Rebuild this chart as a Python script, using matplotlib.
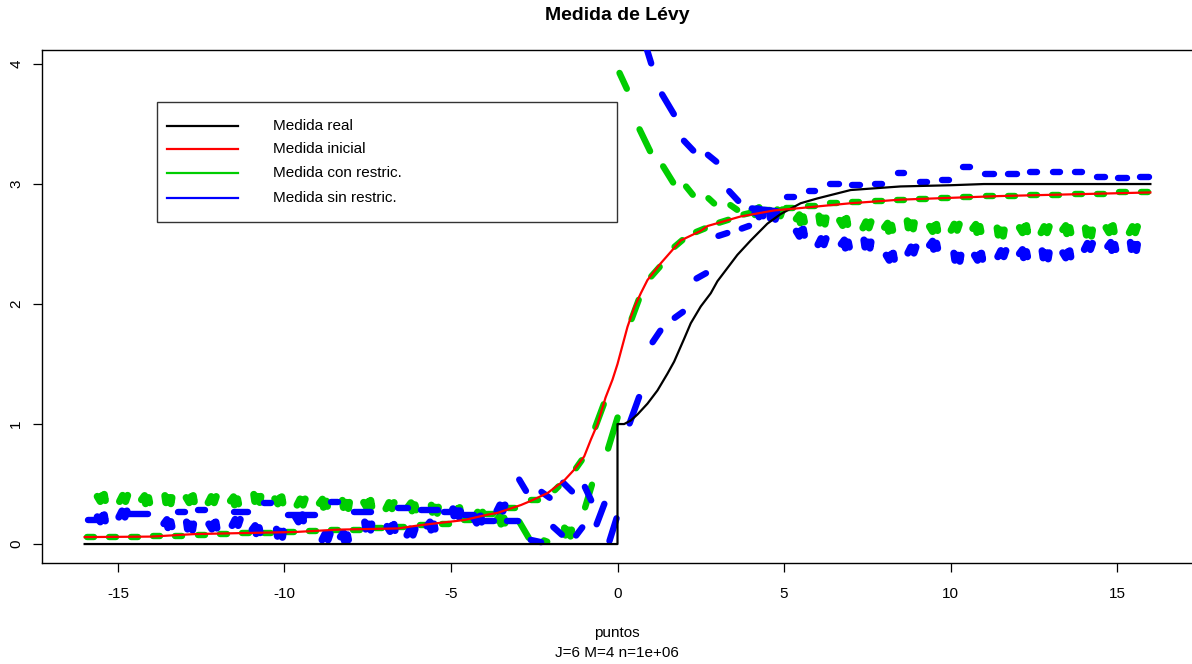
import numpy as np
import matplotlib
matplotlib.use("Agg")
import matplotlib.pyplot as plt
from matplotlib.collections import LineCollection
from matplotlib.patches import Rectangle
from matplotlib.lines import Line2D

plt.rcParams['font.family'] = ['Liberation Sans', 'DejaVu Sans']
plt.rcParams['axes.unicode_minus'] = False

# ---------------- data ----------------
title = "Medida de Lévy"
xlabel = "puntos"
sublabel = "J=6 M=4 n=1e+06"
legend_labels = ["Medida real", "Medida inicial", "Medida con restric.", "Medida sin restric."]
x_ticks = [-15, -10, -5, 0, 5, 10, 15]
y_ticks = [0, 1, 2, 3, 4]

# Medida real (black)
real_x = [-16, 0, 0, 0.2, 0.4, 0.6, 0.9, 1.2, 1.5, 1.7, 2.0, 2.2, 2.5, 2.8, 3.0, 3.3, 3.6, 4.0,
          4.5, 4.9, 5.5, 6.0, 7.0, 8.5, 10.0, 11.0, 16.0]
real_y = [0, 0, 1.0, 1.0, 1.03, 1.08, 1.17, 1.28, 1.42, 1.52, 1.71, 1.84, 1.98, 2.09, 2.19, 2.30,
          2.41, 2.53, 2.67, 2.75, 2.84, 2.88, 2.95, 2.98, 2.99, 3.0, 3.0]

# Medida inicial (red)
ini_x = [-16, -14, -12.7, -11.5, -9.7, -8.4, -6.6, -5.9, -4.6, -3.9, -3.6, -2.9, -2.6, -2.1, -1.6,
         -1.3, -1.0, -0.8, -0.6, -0.36, -0.15, 0.0, 0.3, 0.5, 0.7, 0.9, 1.3, 1.9, 2.5, 2.7, 3.7,
         4.7, 5.5, 7.0, 8.5, 11.5, 16.0]
ini_y = [0.058, 0.062, 0.083, 0.09, 0.10, 0.12, 0.13, 0.158, 0.20, 0.245, 0.26, 0.325, 0.36, 0.425,
         0.53, 0.62, 0.73, 0.87, 1.0, 1.22, 1.37, 1.50, 1.81, 1.97, 2.09, 2.20, 2.34, 2.53, 2.61,
         2.65, 2.73, 2.78, 2.80, 2.84, 2.87, 2.90, 2.93]

# Medida con restric. (green): flat dashes (centre x, y)
con_dash_x = [-15.83, -15.17, -14.50, -13.83, -13.17, -12.50, -11.83, -11.17, -10.50, -9.83, -9.17,
              -8.50, -7.83, -7.17, -6.50, -5.83, -5.17, -4.50, -3.83, -3.17, -2.50,
              4.49, 5.16, 5.83, 6.49, 7.16, 7.83, 8.49, 9.16, 9.83, 10.49, 11.16, 11.83, 12.49,
              13.16, 13.83, 14.49, 15.16, 15.83]
con_dash_y = [0.06, 0.06, 0.06, 0.065, 0.07, 0.075, 0.085, 0.09, 0.095, 0.10, 0.105,
              0.115, 0.12, 0.13, 0.14, 0.155, 0.17, 0.20, 0.25, 0.30, 0.37,
              2.78, 2.80, 2.82, 2.84, 2.85, 2.86, 2.87, 2.875, 2.88, 2.89, 2.90, 2.90, 2.91,
              2.91, 2.92, 2.92, 2.93, 2.93]
# green sloped pieces (x0, y0, x1, y1)
con_seg_x0 = [-1.95, -1.30, -0.70, 0.39, 0.95, 1.64, 2.27, 2.96, 3.69,
              -3.00, -2.30, -1.00, -0.31, 0.02, 0.62, 1.32, 2.00, 2.66, 3.31]
con_seg_y0 = [0.43, 0.61, 0.95, 1.85, 2.21, 2.46, 2.59, 2.67, 2.74,
              0.21, 0.04, 0.28, 0.77, 3.95, 3.48, 3.17, 3.00, 2.90, 2.84]
con_seg_x1 = [-1.70, -1.02, -0.38, 0.67, 1.33, 2.02, 2.71, 3.42, 4.15,
              -2.62, -2.02, -0.74, 0.03, 0.32, 1.02, 1.72, 2.32, 2.97, 3.67]
con_seg_y1 = [0.50, 0.72, 1.19, 2.06, 2.33, 2.55, 2.64, 2.71, 2.77,
              0.03, 0.01, 0.52, 1.08, 3.77, 3.25, 2.99, 2.89, 2.82, 2.77]
# green scattered clumps (x, y)
con_blob_x = [-15.50, -14.83, -14.17, -13.50, -12.83, -12.17, -11.50, -10.83, -10.17, -9.50, -8.83,
              -8.17, -7.50, -6.83, -6.17, -5.50, -4.83, -4.17, -3.50, -1.50,
              4.16, 4.83, 5.49, 6.14, 6.79, 7.49, 8.14, 8.79, 9.49, 10.14, 10.79, 11.49, 12.19,
              12.84, 13.49, 14.14, 14.79, 15.49]
con_blob_y = [0.38, 0.38, 0.37, 0.37, 0.37, 0.37, 0.36, 0.38, 0.36, 0.35, 0.34,
              0.33, 0.33, 0.32, 0.31, 0.29, 0.27, 0.24, 0.20, 0.10,
              2.77, 2.76, 2.71, 2.70, 2.68, 2.66, 2.64, 2.66, 2.63, 2.64, 2.63, 2.60, 2.62,
              2.62, 2.62, 2.60, 2.62, 2.62]

# Medida sin restric. (blue): dashes / sloped pieces (x0, y0, x1, y1)
sin_seg_x0 = [-16.00, -14.80, -13.30, -12.70, -11.60, -10.70, -10.00, -8.70, -8.00, -6.70, -6.00,
              -5.30, -4.70, -4.20, -3.40,
              -3.00, -2.70, -2.36, -2.00, -1.70, -1.30, -1.02, -0.66, -0.27, 0.33, 1.00, 1.64,
              2.29, 2.94, 3.64, 0.84, 1.29, 1.93, 2.64, 3.29, 3.94,
              4.99, 5.64, 6.29, 6.94, 7.64, 8.34, 8.99, 9.64, 10.29, 10.94, 11.64, 12.29, 12.99,
              13.64, 14.29, 14.94, 15.59]
sin_seg_y0 = [0.20, 0.25, 0.27, 0.28, 0.27, 0.34, 0.24, 0.35, 0.27, 0.30, 0.28,
              0.27, 0.24, 0.19, 0.19,
              0.56, 0.04, 0.45, 0.16, 0.53, 0.05, 0.50, 0.14, 0.00, 0.98, 1.66, 1.87,
              2.20, 2.56, 2.62, 4.16, 3.77, 3.38, 3.26, 2.96, 2.80,
              2.89, 2.94, 3.00, 2.99, 3.00, 3.09, 3.02, 3.03, 3.14, 3.08, 3.08, 3.10, 3.10,
              3.10, 3.06, 3.05, 3.06]
sin_seg_x1 = [-15.35, -14.00, -12.90, -12.30, -11.00, -10.30, -9.00, -8.30, -7.30, -6.20, -5.30,
              -4.60, -4.20, -3.60, -2.90,
              -2.70, -2.20, -1.96, -1.60, -1.30, -1.00, -0.75, -0.36, 0.00, 0.68, 1.34, 2.04,
              2.74, 3.39, 4.04, 1.04, 1.74, 2.34, 3.04, 3.69, 4.89,
              5.39, 6.04, 6.74, 7.39, 8.04, 8.69, 9.39, 10.04, 10.69, 11.39, 12.09, 12.69, 13.39,
              14.04, 14.74, 15.39, 16.04]
sin_seg_y1 = [0.20, 0.25, 0.27, 0.28, 0.27, 0.34, 0.24, 0.35, 0.27, 0.30, 0.28,
              0.27, 0.24, 0.19, 0.19,
              0.42, 0.01, 0.37, 0.06, 0.42, 0.16, 0.34, 0.36, 0.24, 1.25, 1.80, 1.95,
              2.27, 2.60, 2.66, 3.98, 3.56, 3.26, 3.17, 2.84, 2.77,
              2.89, 2.94, 3.00, 2.99, 3.00, 3.09, 3.02, 3.03, 3.14, 3.08, 3.08, 3.10, 3.10,
              3.10, 3.06, 3.05, 3.06]
# blue scattered clumps (x, y)
sin_blob_x = [-15.50, -14.85, -13.50, -12.85, -12.15, -11.45, -10.85, -10.15, -9.55, -8.75, -8.20,
              -7.50, -6.80, -6.20, -5.60, -4.85, -4.20, -3.50, 4.25, 4.65,
              5.49, 6.14, 6.84, 7.49, 8.19, 8.84, 9.49, 10.19, 10.84, 11.54, 12.19, 12.84, 13.49,
              14.14, 14.84, 15.49]
sin_blob_y = [0.21, 0.25, 0.17, 0.15, 0.15, 0.18, 0.12, 0.09, 0.21, 0.06, 0.06,
              0.15, 0.13, 0.10, 0.15, 0.26, 0.20, 0.30, 2.76, 2.74,
              2.59, 2.52, 2.50, 2.50, 2.39, 2.45, 2.49, 2.39, 2.39, 2.42, 2.42, 2.41, 2.41,
              2.48, 2.48, 2.48]

# ---------------- figure ----------------
W, H = 1192, 664
fig = plt.figure(figsize=(W / 100, H / 100), dpi=100)
ax = fig.add_axes([42 / W, (H - 563) / H, (1193 - 42) / W, (563 - 50) / H])
ax.set_xlim(-17.28, 17.28)
ax.set_ylim(-0.158, 4.117)

GREEN = "#00CD00"
BLUE = "#0000FF"
RED = "#FF0000"
MARK_LW = 4.6
BLOB_LW = 5.2

# px -> data units
ppx_x = (1193 - 42) / (17.28 * 2)
ppx_y = (563 - 50) / (4.117 + 0.158)
cap = 3.2 / ppx_x
half_dash = 0.20 - cap

blob_patterns = [
    [(-4, 2), (-1, -3), (1, 3), (4, -2), (3, 4)],
    [(-4, -3), (-1, 3), (2, -3), (4, 3)],
    [(-4, 0), (-1, 4), (0, -4), (3, 2), (4, -3)],
    [(-3, 4), (-2, -3), (1, 2), (3, -4), (4, 2)],
]


def draw_dashes(xs, ys, color, z):
    segs = [[(x - half_dash, y), (x + half_dash, y)] for x, y in zip(xs, ys)]
    ax.add_collection(LineCollection(segs, colors=color, linewidths=MARK_LW,
                                     capstyle="round", zorder=z))


def draw_segs(x0, y0, x1, y1, color, z):
    segs = []
    for a, b, c, d in zip(x0, y0, x1, y1):
        L = np.hypot((c - a) * ppx_x, (d - b) * ppx_y)
        f = min(0.45, 3.2 / L) if L > 0 else 0
        segs.append([(a + (c - a) * f, b + (d - b) * f), (c - (c - a) * f, d - (d - b) * f)])
    ax.add_collection(LineCollection(segs, colors=color, linewidths=MARK_LW,
                                     capstyle="round", joinstyle="round", zorder=z))


def draw_blobs(xs, ys, color, z):
    for i, (x, y) in enumerate(zip(xs, ys)):
        pat = blob_patterns[i % len(blob_patterns)]
        px = [x + dx / ppx_x for dx, dy in pat]
        py = [y + dy / ppx_y for dx, dy in pat]
        ax.plot(px, py, color=color, lw=BLOB_LW, solid_capstyle="round",
                solid_joinstyle="round", zorder=z)


# green
draw_dashes(con_dash_x, con_dash_y, GREEN, 2)
draw_segs(con_seg_x0, con_seg_y0, con_seg_x1, con_seg_y1, GREEN, 2)
draw_blobs(con_blob_x, con_blob_y, GREEN, 2)
# blue
draw_segs(sin_seg_x0, sin_seg_y0, sin_seg_x1, sin_seg_y1, BLUE, 3)
draw_blobs(sin_blob_x, sin_blob_y, BLUE, 3)
# black and red
ax.plot(real_x, real_y, color="black", lw=1.6, zorder=4)
ax.plot(ini_x, ini_y, color=RED, lw=1.6, zorder=5)

# axes styling
for s in ax.spines.values():
    s.set_linewidth(1.0)
ax.set_xticks(x_ticks)
ax.set_xticklabels([str(t) for t in x_ticks])
ax.set_yticks(y_ticks)
ax.set_yticklabels([str(t) for t in y_ticks], rotation=90, va="center")
ax.tick_params(axis="x", direction="out", length=6.5, width=0.9, pad=11, labelsize=11)
ax.tick_params(axis="y", direction="out", length=6.5, width=0.9, pad=7, labelsize=11)

# titles / labels
fig.text(617 / W, 1 - 15 / H, title, ha="center", va="center", fontsize=14, fontweight="bold")
fig.text(617 / W, 1 - 633 / H, xlabel, ha="center", va="center", fontsize=11)
fig.text(617 / W, 1 - 653 / H, sublabel, ha="center", va="center", fontsize=11)

# legend (drawn like R's legend box)
fig.add_artist(Rectangle((157 / W, 1 - 222 / H), (617 - 157) / W, (222 - 102) / H,
                         transform=fig.transFigure, fill=False, edgecolor="#333333", lw=1.0))
leg_colors = ["black", RED, GREEN, BLUE]
rows = [126, 149, 173, 198]
for lab, col, r in zip(legend_labels, leg_colors, rows):
    fig.add_artist(Line2D([167 / W, 238 / W], [1 - r / H, 1 - r / H], transform=fig.transFigure,
                          color=col, lw=1.6))
    fig.text(273 / W, 1 - r / H, lab, ha="left", va="center", fontsize=11)

fig.savefig("out.png", dpi=100)
